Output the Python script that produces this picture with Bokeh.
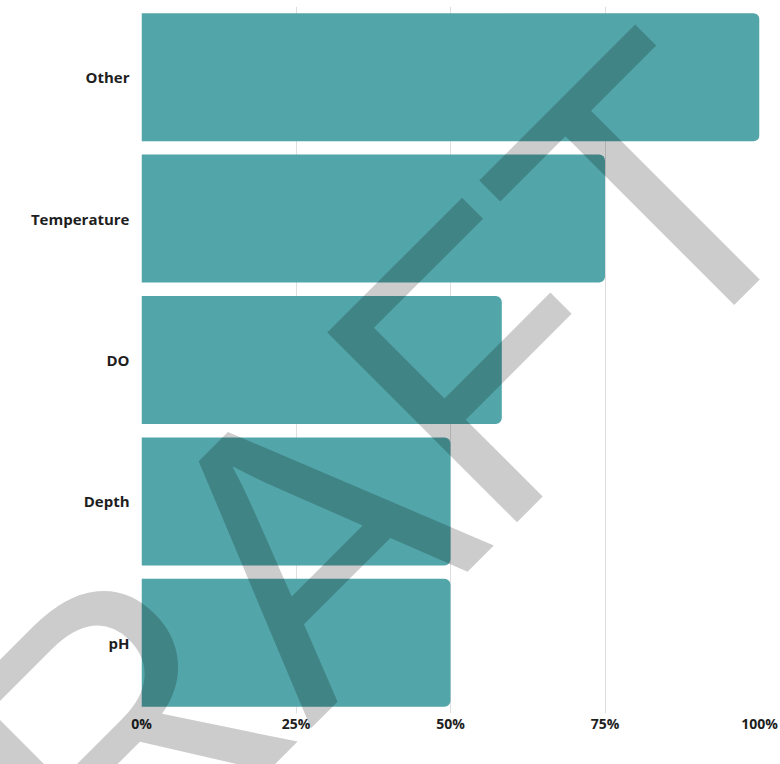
from bokeh.plotting import figure
from bokeh.models import FactorRange, Range1d, FixedTicker
from bokeh.core.properties import value
from bokeh.embed import file_html
from bokeh.resources import INLINE

categories = ["Other", "Temperature", "DO", "Depth", "pH"]
values = [100, 75, 58.3, 50, 50]
tick_values = [0, 25, 50, 75, 100]
tick_labels = ["0%", "25%", "50%", "75%", "100%"]
grid_values = [25, 50, 75, 100]

# watermark placement (in data / synthetic categorical units)
WM_TEXT = ["DRAFT"]
WM_X = [21.8]
WM_Y = [1.0]

BAR_COLOR = "#52A5A8"
TEXT_COLOR = "#1e1e1e"
FONT = "Open Sans"

p = figure(width=780, height=764,
           y_range=FactorRange(*reversed(categories), range_padding=0),
           x_range=Range1d(0, 100),
           output_backend="svg", toolbar_location=None,
           min_border_left=141, min_border_right=21,
           min_border_top=6, min_border_bottom=51)

p.hbar(y=categories, right=values, left=0, height=0.905,
       fill_color=BAR_COLOR, line_color=None, border_radius=(0, 6, 6, 0))

p.outline_line_color = None
p.background_fill_color = "white"
p.border_fill_color = "white"

p.xgrid.ticker = FixedTicker(ticks=grid_values)
p.xgrid.grid_line_color = "#dedede"
p.xgrid.grid_line_width = 1
p.ygrid.grid_line_color = None

xa = p.xaxis[0]
xa.ticker = FixedTicker(ticks=tick_values)
xa.major_label_overrides = {v: l for v, l in zip(tick_values, tick_labels)}
xa.axis_line_color = None
xa.major_tick_line_color = None
xa.minor_tick_line_color = None
xa.major_tick_out = 0
xa.major_tick_in = 0
xa.major_label_standoff = 0
xa.major_label_text_font = FONT
xa.major_label_text_font_style = "bold"
xa.major_label_text_font_size = "14px"
xa.major_label_text_color = TEXT_COLOR

ya = p.yaxis[0]
ya.axis_line_color = None
ya.major_tick_line_color = None
ya.major_tick_out = 0
ya.major_tick_in = 0
ya.major_label_standoff = 12
ya.major_label_text_font = FONT
ya.major_label_text_font_style = "bold"
ya.major_label_text_font_size = "15px"
ya.major_label_text_color = TEXT_COLOR

p.text(x=WM_X, y=WM_Y, text=WM_TEXT, angle=45, angle_units="deg",
       text_font=value("Liberation Sans"), text_font_size=value("390px"),
       text_color="black", text_alpha=0.2,
       text_align="center", text_baseline="alphabetic", level="overlay")

open("out.html", "w").write(file_html(p, INLINE))
